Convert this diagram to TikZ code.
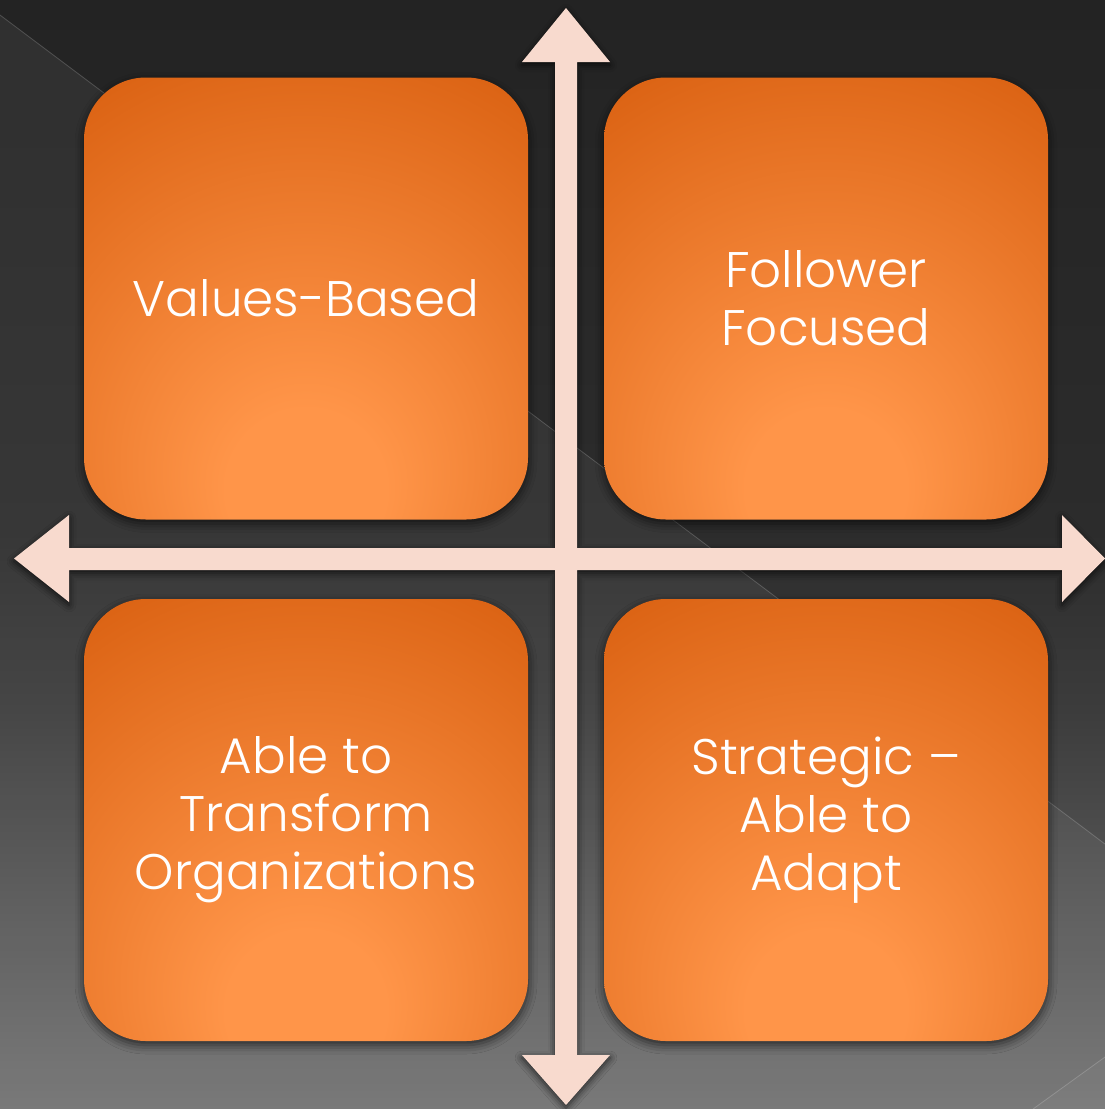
\documentclass[tikz,border=0pt]{standalone}
\usepackage{fontspec}
\IfFontExistsTF{Poppins Light}{\setmainfont{Poppins Light}}{\setmainfont{Poppins}}
\usetikzlibrary{shadows.blur}

% palette
\definecolor{bgTop}{HTML}{232323}
\definecolor{bgMid}{HTML}{2C2C2C}
\definecolor{bgLow}{HTML}{3C3C3C}
\definecolor{bgBot}{HTML}{727272}
\definecolor{orDark}{HTML}{D25606}
\definecolor{orLight}{HTML}{FF9549}
\definecolor{axisPink}{HTML}{F8DACE}

% backdrop: dark at the top, fading to grey at the bottom
% (the filled area maps onto the 25bp..75bp band of the shading)
\pgfdeclareverticalshading{backdrop}{100bp}{%
  color(0bp)=(bgBot); color(25bp)=(bgBot); color(43bp)=(bgLow);
  color(51bp)=(bgMid); color(75bp)=(bgTop); color(100bp)=(bgTop)}

% quadrant tiles: broad glow low in the middle, darker toward the top corners
% (the tile maps onto the central 50bp square of the shading)
\pgfdeclareradialshading{tileglow}{\pgfpoint{0bp}{-24bp}}{%
  color(0bp)=(orLight); color(9bp)=(orLight); color(52bp)=(orDark); color(90bp)=(orDark)}

\tikzset{
  quadtile/.style={
    shading=tileglow, rounded corners=62pt,
    minimum width=444pt, minimum height=442pt, inner sep=0pt,
    text=white, align=center,
    font=\fontsize{50}{58}\selectfont,
    blur shadow={shadow xshift=0pt, shadow yshift=-4pt,
                 shadow blur radius=9pt, shadow opacity=65}},
  axiscross/.style={
    fill=axisPink,
    blur shadow={shadow xshift=0pt, shadow yshift=-3pt,
                 shadow blur radius=7pt, shadow opacity=70}},
  seam/.style={draw=white, draw opacity=0.18, line width=0.8pt}
}

\begin{document}
\begin{tikzpicture}[x=1pt, y=-1pt]
  \useasboundingbox (0,0) rectangle (1105,1109);

  % background
  \shade[shading=backdrop] (0,0) rectangle (1105,1109);
  \fill[white, opacity=0.055] (0,15) -- (1105,844) -- (1105,1109) -- (0,1109) -- cycle;
  \fill[white, opacity=0.03] (1105,1057) -- (1033,1109) -- (1105,1109) -- cycle;
  \draw[seam] (0,15) -- (1105,844);
  \draw[seam] (1105,1057) -- (1033,1109);

  % the two crossed double-headed axes as one outline
  \path[axiscross]
    (566,8) -- (610,62) -- (577,62) -- (577,548) -- (1062,548) -- (1062,515)
    -- (1105,558.5) -- (1062,602) -- (1062,570) -- (577,570) -- (577,1055)
    -- (610,1055) -- (566,1105) -- (522,1055) -- (555,1055) -- (555,570)
    -- (69,570) -- (69,602) -- (14,558.5) -- (69,515) -- (69,548)
    -- (555,548) -- (555,62) -- (522,62) -- cycle;

  % quadrants
  \node[quadtile] (values)    at (306,298.5) {Values-Based};
  \node[quadtile] (follower)  at (826,298.5) {Follower\\Focused};
  \node[quadtile] (transform) at (306,820)   {Able to\\Transform\\Organizations};
  \node[quadtile] (strategic) at (826,820)   {Strategic –\\Able to\\Adapt};
\end{tikzpicture}
\end{document}
